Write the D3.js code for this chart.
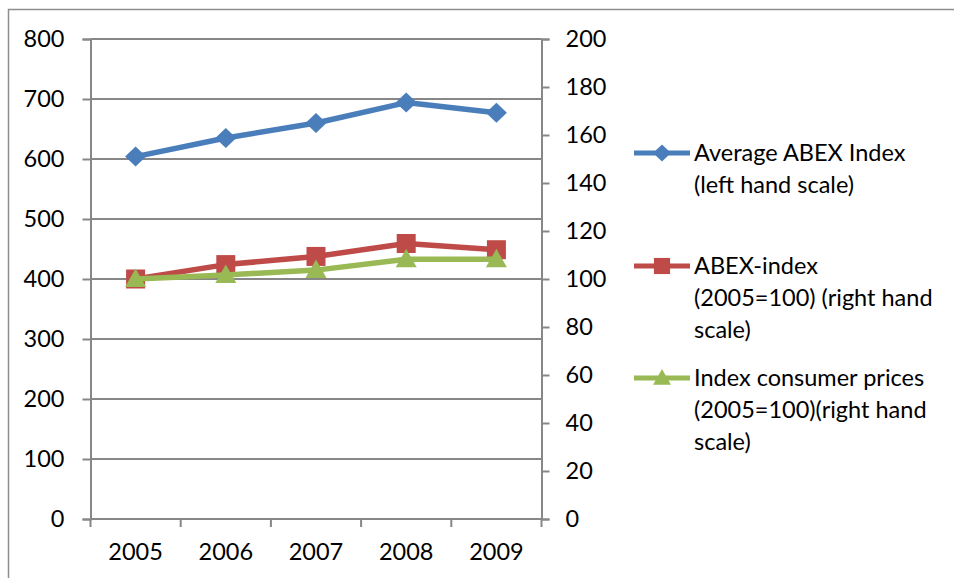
<!DOCTYPE html>
<html>
<head>
<meta charset="utf-8">
<script src="https://cdn.jsdelivr.net/npm/d3@7/dist/d3.min.js"></script>
<style>
  html, body { margin: 0; padding: 0; background: #fff; }
  svg { display: block; font-family: Lato, "Open Sans", sans-serif; }
</style>
</head>
<body>
<svg id="chart" width="954" height="578"></svg>
<script>
const years = ["2005", "2006", "2007", "2008", "2009"];
const avgAbex = [604, 635, 660, 694, 677];          // left hand scale
const abexIndex = [100, 106, 109.4, 114.8, 112.2];  // right hand scale
const cpiIndex = [100, 101.7, 103.7, 108.2, 108.2]; // right hand scale
const leftTicks = [0, 100, 200, 300, 400, 500, 600, 700, 800];
const rightTicks = [0, 20, 40, 60, 80, 100, 120, 140, 160, 180, 200];
const legendLabels = [
  ["Average ABEX Index", "(left hand scale)"],
  ["ABEX-index", "(2005=100) (right hand", "scale)"],
  ["Index consumer prices", "(2005=100)(right hand", "scale)"]
];

const colors = ["#4A7EBB", "#BE4B48", "#98B954"];
const gridColor = "#878787";
const fontSize = 23.5;

const svg = d3.select("#chart");
const W = 954, H = 578;
const plot = { left: 90.5, right: 541.5, top: 39, bottom: 519 };

// outer chart border
svg.append("path")
  .attr("d", `M8.5,${H + 2} L8.5,9.5 L${W + 2},9.5`)
  .attr("fill", "none").attr("stroke", "#8e8e8e").attr("stroke-width", 1.5);

const x = d3.scaleBand().domain(years).range([plot.left, plot.right]).padding(0);
const yL = d3.scaleLinear().domain([0, 800]).range([plot.bottom, plot.top]);
const yR = d3.scaleLinear().domain([0, 200]).range([plot.bottom, plot.top]);

// gridlines
svg.append("g").selectAll("line").data(leftTicks).join("line")
  .attr("x1", plot.left).attr("x2", plot.right)
  .attr("y1", d => yL(d)).attr("y2", d => yL(d))
  .attr("stroke", gridColor).attr("stroke-width", 2);

// left axis
const gL = svg.append("g").attr("transform", `translate(${plot.left},0)`)
  .call(d3.axisLeft(yL).tickValues(leftTicks).tickSize(8).tickPadding(18).tickFormat(d3.format("d")));
// right axis
const gR = svg.append("g").attr("transform", `translate(${plot.right},0)`)
  .call(d3.axisRight(yR).tickValues(rightTicks).tickSize(8).tickPadding(16).tickFormat(d3.format("d")));
// bottom axis
const xBounds = years.map(y => x(y)).concat([plot.right]);
const gB = svg.append("g").attr("transform", `translate(0,${plot.bottom})`)
  .call(d3.axisBottom(x).tickSize(0).tickPadding(24));
gB.selectAll(".tickmark").data(xBounds).join("line").attr("class", "tickmark")
  .attr("x1", d => d).attr("x2", d => d).attr("y1", 0).attr("y2", 8)
  .attr("stroke", gridColor).attr("stroke-width", 2);

[gL, gR, gB].forEach(g => {
  g.select(".domain").attr("stroke", gridColor).attr("stroke-width", 2);
  g.selectAll(".tick line").attr("stroke", gridColor).attr("stroke-width", 2);
  g.selectAll("text").attr("font-size", fontSize).attr("fill", "#000")
    .attr("font-family", "Lato, 'Open Sans', sans-serif");
});
gB.select(".domain").attr("d", `M${plot.left},0H${plot.right}`);

const cx = d => x(d) + x.bandwidth() / 2;

function markerPath(i) {
  if (i === 0) return "M0,-10L10.5,0L0,10L-10.5,0Z";
  if (i === 1) return "M-9.5,-9.5H9.5V9.5H-9.5Z";
  return "M0,-10.5L10.5,8L-10.5,8Z";
}

const series = [
  { vals: avgAbex, y: yL },
  { vals: abexIndex, y: yR },
  { vals: cpiIndex, y: yR }
];

series.forEach((s, i) => {
  const pts = years.map((yr, k) => [cx(yr), s.y(s.vals[k])]);
  svg.append("path")
    .attr("d", d3.line()(pts))
    .attr("fill", "none").attr("stroke", colors[i]).attr("stroke-width", 5.5)
    .attr("stroke-linejoin", "round");
  svg.append("g").selectAll("path").data(pts).join("path")
    .attr("transform", d => `translate(${d[0]},${d[1]})`)
    .attr("d", markerPath(i))
    .attr("fill", colors[i]);
});

// legend
const legendY = [153, 266, 378];
const lineH = 32;
legendLabels.forEach((lines, i) => {
  const g = svg.append("g").attr("transform", `translate(0,${legendY[i]})`);
  g.append("line").attr("x1", 634).attr("x2", 690).attr("y1", 0).attr("y2", 0)
    .attr("stroke", colors[i]).attr("stroke-width", 5);
  g.append("path").attr("transform", "translate(662,0) scale(0.85)")
    .attr("d", markerPath(i)).attr("fill", colors[i]);
  g.selectAll("text").data(lines).join("text")
    .attr("x", 694).attr("y", (d, k) => k * lineH)
    .attr("dy", "0.35em")
    .attr("font-size", fontSize).attr("fill", "#000")
    .text(d => d);
});
</script>
</body>
</html>
